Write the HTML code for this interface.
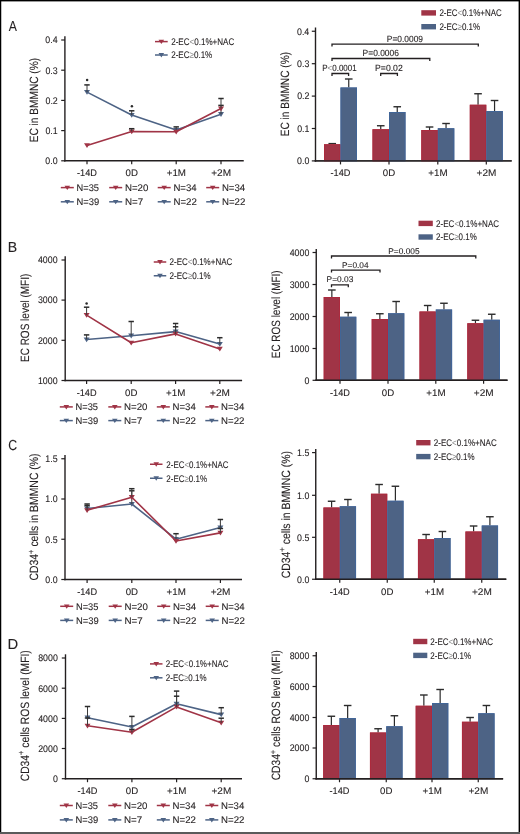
<!DOCTYPE html>
<html><head><meta charset="utf-8"><style>
html,body{margin:0;padding:0;background:#fff;}
body{width:520px;height:834px;overflow:hidden;position:relative;}
svg{position:absolute;left:0;top:0;will-change:transform;}
text{font-family:"Liberation Sans",sans-serif;font-kerning:none;text-rendering:geometricPrecision;stroke:#231f20;stroke-width:0.1px;}
</style></head><body>
<svg width="520" height="834" viewBox="0 0 520 834">
<rect x="0" y="0" width="520" height="834" fill="#fff"/>
<text transform="translate(8.78,31.20) scale(0.8425,1)" font-size="14.5" fill="#231f20">A</text>
<text transform="translate(7.64,251.90) scale(0.9718,1)" font-size="14.5" fill="#231f20">B</text>
<text transform="translate(8.17,450.10) scale(0.8494,1)" font-size="14.5" fill="#231f20">C</text>
<text transform="translate(7.54,649.20) scale(1.0188,1)" font-size="14.5" fill="#231f20">D</text>
<text transform="translate(38.15,142.33) rotate(-90) scale(0.8446,1)" font-size="12.0" fill="#231f20"><tspan font-size="12.0">EC in BMMNC (%)</tspan></text>
<text transform="translate(289.10,136.33) rotate(-90) scale(0.8436,1)" font-size="12.0" fill="#231f20"><tspan font-size="12.0">EC in BMMNC (%)</tspan></text>
<text transform="translate(28.80,362.02) rotate(-90) scale(0.8333,1)" font-size="12.0" fill="#231f20"><tspan font-size="12.0">EC ROS level (MFI)</tspan></text>
<text transform="translate(280.40,358.22) rotate(-90) scale(0.8285,1)" font-size="12.0" fill="#231f20"><tspan font-size="12.0">EC ROS level (MFI)</tspan></text>
<text transform="translate(37.90,580.53) rotate(-90) scale(0.8668,1)" font-size="12.0" fill="#231f20"><tspan font-size="12.0">CD34</tspan><tspan font-size="8.8" dy="-4.1">+</tspan><tspan font-size="12.0" dy="4.1"> cells in BMMNC (%)</tspan></text>
<text transform="translate(289.50,578.33) rotate(-90) scale(0.8688,1)" font-size="12.0" fill="#231f20"><tspan font-size="12.0">CD34</tspan><tspan font-size="8.8" dy="-4.1">+</tspan><tspan font-size="12.0" dy="4.1"> cells in BMMNC (%)</tspan></text>
<text transform="translate(28.50,781.32) rotate(-90) scale(0.8595,1)" font-size="12.0" fill="#231f20"><tspan font-size="12.0">CD34</tspan><tspan font-size="8.8" dy="-4.1">+</tspan><tspan font-size="12.0" dy="4.1"> cells ROS level (MFI)</tspan></text>
<text transform="translate(280.00,780.32) rotate(-90) scale(0.8535,1)" font-size="12.0" fill="#231f20"><tspan font-size="12.0">CD34</tspan><tspan font-size="8.8" dy="-4.1">+</tspan><tspan font-size="12.0" dy="4.1"> cells ROS level (MFI)</tspan></text>
<line x1="64.90" y1="36.30" x2="64.90" y2="161.55" stroke="#231f20" stroke-width="1.4"/>
<line x1="64.15" y1="160.80" x2="243.75" y2="160.80" stroke="#231f20" stroke-width="1.4"/>
<line x1="61.20" y1="40.00" x2="64.90" y2="40.00" stroke="#231f20" stroke-width="1.2"/>
<text transform="translate(45.28,43.30) scale(0.9200,1)" font-size="9.6" fill="#231f20">0.4</text>
<line x1="61.20" y1="70.20" x2="64.90" y2="70.20" stroke="#231f20" stroke-width="1.2"/>
<text transform="translate(45.41,73.50) scale(0.9200,1)" font-size="9.6" fill="#231f20">0.3</text>
<line x1="61.20" y1="100.40" x2="64.90" y2="100.40" stroke="#231f20" stroke-width="1.2"/>
<text transform="translate(45.47,103.70) scale(0.9200,1)" font-size="9.6" fill="#231f20">0.2</text>
<line x1="61.20" y1="130.60" x2="64.90" y2="130.60" stroke="#231f20" stroke-width="1.2"/>
<text transform="translate(45.45,133.90) scale(0.9200,1)" font-size="9.6" fill="#231f20">0.1</text>
<line x1="61.20" y1="160.80" x2="64.90" y2="160.80" stroke="#231f20" stroke-width="1.2"/>
<text transform="translate(45.37,164.10) scale(0.9200,1)" font-size="9.6" fill="#231f20">0.0</text>
<line x1="87.00" y1="160.80" x2="87.00" y2="164.30" stroke="#231f20" stroke-width="1.2"/>
<text transform="translate(77.04,176.30) scale(0.9587,1)" font-size="9.6" fill="#231f20">-14D</text>
<line x1="131.70" y1="160.80" x2="131.70" y2="164.30" stroke="#231f20" stroke-width="1.2"/>
<text transform="translate(125.57,176.30) scale(1.0055,1)" font-size="9.6" fill="#231f20">0D</text>
<line x1="176.20" y1="160.80" x2="176.20" y2="164.30" stroke="#231f20" stroke-width="1.2"/>
<text transform="translate(166.72,176.30) scale(1.0178,1)" font-size="9.6" fill="#231f20">+1M</text>
<line x1="221.00" y1="160.80" x2="221.00" y2="164.30" stroke="#231f20" stroke-width="1.2"/>
<text transform="translate(211.26,176.30) scale(1.0460,1)" font-size="9.6" fill="#231f20">+2M</text>
<polyline points="87.00,92.10 131.70,115.00 176.20,130.00 221.00,114.20" fill="none" stroke="#4d6385" stroke-width="1.6" stroke-linejoin="round"/>
<path d="M84.00,90.00H90.00L87.00,94.80Z" fill="#4d6385"/>
<path d="M128.70,112.90H134.70L131.70,117.70Z" fill="#4d6385"/>
<path d="M173.20,127.90H179.20L176.20,132.70Z" fill="#4d6385"/>
<path d="M218.00,112.10H224.00L221.00,116.90Z" fill="#4d6385"/>
<line x1="87.00" y1="92.10" x2="87.00" y2="84.90" stroke="#3c3c3c" stroke-width="1.0"/>
<line x1="84.30" y1="84.90" x2="89.70" y2="84.90" stroke="#2b2b2b" stroke-width="1.5"/>
<line x1="131.70" y1="115.00" x2="131.70" y2="110.80" stroke="#3c3c3c" stroke-width="1.0"/>
<line x1="129.00" y1="110.80" x2="134.40" y2="110.80" stroke="#2b2b2b" stroke-width="1.5"/>
<line x1="176.20" y1="130.00" x2="176.20" y2="126.90" stroke="#3c3c3c" stroke-width="1.0"/>
<line x1="173.50" y1="126.90" x2="178.90" y2="126.90" stroke="#2b2b2b" stroke-width="1.5"/>
<line x1="221.00" y1="114.20" x2="221.00" y2="105.40" stroke="#3c3c3c" stroke-width="1.0"/>
<line x1="218.30" y1="105.40" x2="223.70" y2="105.40" stroke="#2b2b2b" stroke-width="1.5"/>
<polyline points="87.00,145.40 131.70,131.50 176.20,131.80 221.00,108.50" fill="none" stroke="#a03446" stroke-width="1.6" stroke-linejoin="round"/>
<path d="M84.00,143.30H90.00L87.00,148.10Z" fill="#a03446"/>
<path d="M128.70,129.40H134.70L131.70,134.20Z" fill="#a03446"/>
<path d="M173.20,129.70H179.20L176.20,134.50Z" fill="#a03446"/>
<path d="M218.00,106.40H224.00L221.00,111.20Z" fill="#a03446"/>
<line x1="221.00" y1="108.50" x2="221.00" y2="98.50" stroke="#3c3c3c" stroke-width="1.0"/>
<line x1="218.30" y1="98.50" x2="223.70" y2="98.50" stroke="#2b2b2b" stroke-width="1.5"/>
<line x1="131.70" y1="131.50" x2="131.70" y2="128.70" stroke="#3c3c3c" stroke-width="1.0"/>
<line x1="129.00" y1="128.70" x2="134.40" y2="128.70" stroke="#2b2b2b" stroke-width="1.5"/>
<circle cx="87.10" cy="80.10" r="1.25" fill="#2a2a2a"/>
<circle cx="131.90" cy="106.30" r="1.25" fill="#2a2a2a"/>
<line x1="155.00" y1="41.60" x2="167.70" y2="41.60" stroke="#a03446" stroke-width="1.5"/>
<path d="M158.55,39.70H164.15L161.35,44.10Z" fill="#a03446"/>
<text transform="translate(171.19,44.90) scale(0.8389,1)" font-size="9.6" fill="#231f20">2-EC<tspan fill="#8a8a8a" stroke="none">&lt;</tspan>0.1%+NAC</text>
<line x1="155.00" y1="55.00" x2="167.70" y2="55.00" stroke="#4d6385" stroke-width="1.5"/>
<path d="M158.55,53.10H164.15L161.35,57.50Z" fill="#4d6385"/>
<text transform="translate(171.20,58.30) scale(0.8382,1)" font-size="9.6" fill="#231f20">2-EC<tspan fill="#8a8a8a" stroke="none">≥</tspan>0.1%</text>
<line x1="60.80" y1="187.60" x2="73.80" y2="187.60" stroke="#a03446" stroke-width="1.5"/>
<path d="M64.50,185.70H70.10L67.30,190.10Z" fill="#a03446"/>
<text transform="translate(76.54,190.90) scale(0.9670,1)" font-size="9.6" fill="#231f20">N=35</text>
<line x1="109.20" y1="187.60" x2="122.20" y2="187.60" stroke="#a03446" stroke-width="1.5"/>
<path d="M112.90,185.70H118.50L115.70,190.10Z" fill="#a03446"/>
<text transform="translate(124.90,190.90) scale(1.0111,1)" font-size="9.6" fill="#231f20">N=20</text>
<line x1="157.70" y1="187.60" x2="170.70" y2="187.60" stroke="#a03446" stroke-width="1.5"/>
<path d="M161.40,185.70H167.00L164.20,190.10Z" fill="#a03446"/>
<text transform="translate(173.41,190.90) scale(1.0023,1)" font-size="9.6" fill="#231f20">N=34</text>
<line x1="206.20" y1="187.60" x2="219.20" y2="187.60" stroke="#a03446" stroke-width="1.5"/>
<path d="M209.90,185.70H215.50L212.70,190.10Z" fill="#a03446"/>
<text transform="translate(221.91,190.90) scale(1.0023,1)" font-size="9.6" fill="#231f20">N=34</text>
<line x1="60.80" y1="201.80" x2="73.80" y2="201.80" stroke="#4d6385" stroke-width="1.5"/>
<path d="M64.50,199.90H70.10L67.30,204.30Z" fill="#4d6385"/>
<text transform="translate(76.53,205.10) scale(0.9784,1)" font-size="9.6" fill="#231f20">N=39</text>
<line x1="109.20" y1="201.80" x2="122.20" y2="201.80" stroke="#4d6385" stroke-width="1.5"/>
<path d="M112.90,199.90H118.50L115.70,204.30Z" fill="#4d6385"/>
<text transform="translate(124.89,205.10) scale(1.0236,1)" font-size="9.6" fill="#231f20">N=7</text>
<line x1="157.70" y1="201.80" x2="170.70" y2="201.80" stroke="#4d6385" stroke-width="1.5"/>
<path d="M161.40,199.90H167.00L164.20,204.30Z" fill="#4d6385"/>
<text transform="translate(173.41,205.10) scale(1.0070,1)" font-size="9.6" fill="#231f20">N=22</text>
<line x1="206.20" y1="201.80" x2="219.20" y2="201.80" stroke="#4d6385" stroke-width="1.5"/>
<path d="M209.90,199.90H215.50L212.70,204.30Z" fill="#4d6385"/>
<text transform="translate(221.91,205.10) scale(1.0070,1)" font-size="9.6" fill="#231f20">N=22</text>
<line x1="65.20" y1="256.30" x2="65.20" y2="381.25" stroke="#231f20" stroke-width="1.4"/>
<line x1="64.45" y1="380.50" x2="242.10" y2="380.50" stroke="#231f20" stroke-width="1.4"/>
<line x1="61.50" y1="260.00" x2="65.20" y2="260.00" stroke="#231f20" stroke-width="1.2"/>
<text transform="translate(37.90,263.30) scale(0.9200,1)" font-size="9.6" fill="#231f20">4000</text>
<line x1="61.50" y1="300.10" x2="65.20" y2="300.10" stroke="#231f20" stroke-width="1.2"/>
<text transform="translate(37.90,303.40) scale(0.9200,1)" font-size="9.6" fill="#231f20">3000</text>
<line x1="61.50" y1="340.30" x2="65.20" y2="340.30" stroke="#231f20" stroke-width="1.2"/>
<text transform="translate(37.90,343.60) scale(0.9200,1)" font-size="9.6" fill="#231f20">2000</text>
<line x1="61.50" y1="380.50" x2="65.20" y2="380.50" stroke="#231f20" stroke-width="1.2"/>
<text transform="translate(37.90,383.80) scale(0.9200,1)" font-size="9.6" fill="#231f20">1000</text>
<line x1="86.60" y1="380.50" x2="86.60" y2="384.00" stroke="#231f20" stroke-width="1.2"/>
<text transform="translate(76.64,396.00) scale(0.9587,1)" font-size="9.6" fill="#231f20">-14D</text>
<line x1="131.20" y1="380.50" x2="131.20" y2="384.00" stroke="#231f20" stroke-width="1.2"/>
<text transform="translate(125.07,396.00) scale(1.0055,1)" font-size="9.6" fill="#231f20">0D</text>
<line x1="175.60" y1="380.50" x2="175.60" y2="384.00" stroke="#231f20" stroke-width="1.2"/>
<text transform="translate(166.12,396.00) scale(1.0178,1)" font-size="9.6" fill="#231f20">+1M</text>
<line x1="219.80" y1="380.50" x2="219.80" y2="384.00" stroke="#231f20" stroke-width="1.2"/>
<text transform="translate(210.06,396.00) scale(1.0460,1)" font-size="9.6" fill="#231f20">+2M</text>
<polyline points="86.60,339.50 131.20,335.70 175.60,331.60 219.80,344.10" fill="none" stroke="#4d6385" stroke-width="1.6" stroke-linejoin="round"/>
<path d="M83.60,337.40H89.60L86.60,342.20Z" fill="#4d6385"/>
<path d="M128.20,333.60H134.20L131.20,338.40Z" fill="#4d6385"/>
<path d="M172.60,329.50H178.60L175.60,334.30Z" fill="#4d6385"/>
<path d="M216.80,342.00H222.80L219.80,346.80Z" fill="#4d6385"/>
<line x1="86.60" y1="339.50" x2="86.60" y2="334.90" stroke="#3c3c3c" stroke-width="1.0"/>
<line x1="83.90" y1="334.90" x2="89.30" y2="334.90" stroke="#2b2b2b" stroke-width="1.5"/>
<line x1="131.20" y1="335.70" x2="131.20" y2="321.50" stroke="#3c3c3c" stroke-width="1.0"/>
<line x1="128.50" y1="321.50" x2="133.90" y2="321.50" stroke="#2b2b2b" stroke-width="1.5"/>
<line x1="175.60" y1="331.60" x2="175.60" y2="323.50" stroke="#3c3c3c" stroke-width="1.0"/>
<line x1="172.90" y1="323.50" x2="178.30" y2="323.50" stroke="#2b2b2b" stroke-width="1.5"/>
<line x1="219.80" y1="344.10" x2="219.80" y2="337.70" stroke="#3c3c3c" stroke-width="1.0"/>
<line x1="217.10" y1="337.70" x2="222.50" y2="337.70" stroke="#2b2b2b" stroke-width="1.5"/>
<polyline points="86.60,315.10 131.20,342.80 175.60,333.90 219.80,348.90" fill="none" stroke="#a03446" stroke-width="1.6" stroke-linejoin="round"/>
<path d="M83.60,313.00H89.60L86.60,317.80Z" fill="#a03446"/>
<path d="M128.20,340.70H134.20L131.20,345.50Z" fill="#a03446"/>
<path d="M172.60,331.80H178.60L175.60,336.60Z" fill="#a03446"/>
<path d="M216.80,346.80H222.80L219.80,351.60Z" fill="#a03446"/>
<line x1="86.60" y1="315.10" x2="86.60" y2="307.20" stroke="#3c3c3c" stroke-width="1.0"/>
<line x1="83.90" y1="307.20" x2="89.30" y2="307.20" stroke="#2b2b2b" stroke-width="1.5"/>
<line x1="175.60" y1="333.90" x2="175.60" y2="326.80" stroke="#3c3c3c" stroke-width="1.0"/>
<line x1="172.90" y1="326.80" x2="178.30" y2="326.80" stroke="#2b2b2b" stroke-width="1.5"/>
<circle cx="86.60" cy="303.50" r="1.25" fill="#2a2a2a"/>
<line x1="153.75" y1="262.00" x2="166.25" y2="262.00" stroke="#a03446" stroke-width="1.5"/>
<path d="M157.20,260.10H162.80L160.00,264.50Z" fill="#a03446"/>
<text transform="translate(169.60,265.30) scale(0.8335,1)" font-size="9.6" fill="#231f20">2-EC<tspan fill="#8a8a8a" stroke="none">&lt;</tspan>0.1%+NAC</text>
<line x1="153.75" y1="275.75" x2="166.25" y2="275.75" stroke="#4d6385" stroke-width="1.5"/>
<path d="M157.20,273.85H162.80L160.00,278.25Z" fill="#4d6385"/>
<text transform="translate(169.60,279.05) scale(0.8382,1)" font-size="9.6" fill="#231f20">2-EC<tspan fill="#8a8a8a" stroke="none">≥</tspan>0.1%</text>
<line x1="59.80" y1="406.90" x2="72.80" y2="406.90" stroke="#a03446" stroke-width="1.5"/>
<path d="M63.50,405.00H69.10L66.30,409.40Z" fill="#a03446"/>
<text transform="translate(75.54,410.20) scale(0.9670,1)" font-size="9.6" fill="#231f20">N=35</text>
<line x1="108.30" y1="406.90" x2="121.30" y2="406.90" stroke="#a03446" stroke-width="1.5"/>
<path d="M112.00,405.00H117.60L114.80,409.40Z" fill="#a03446"/>
<text transform="translate(124.00,410.20) scale(1.0111,1)" font-size="9.6" fill="#231f20">N=20</text>
<line x1="156.80" y1="406.90" x2="169.80" y2="406.90" stroke="#a03446" stroke-width="1.5"/>
<path d="M160.50,405.00H166.10L163.30,409.40Z" fill="#a03446"/>
<text transform="translate(172.51,410.20) scale(1.0023,1)" font-size="9.6" fill="#231f20">N=34</text>
<line x1="205.30" y1="406.90" x2="218.30" y2="406.90" stroke="#a03446" stroke-width="1.5"/>
<path d="M209.00,405.00H214.60L211.80,409.40Z" fill="#a03446"/>
<text transform="translate(221.01,410.20) scale(1.0023,1)" font-size="9.6" fill="#231f20">N=34</text>
<line x1="59.80" y1="420.60" x2="72.80" y2="420.60" stroke="#4d6385" stroke-width="1.5"/>
<path d="M63.50,418.70H69.10L66.30,423.10Z" fill="#4d6385"/>
<text transform="translate(75.53,423.90) scale(0.9784,1)" font-size="9.6" fill="#231f20">N=39</text>
<line x1="108.30" y1="420.60" x2="121.30" y2="420.60" stroke="#4d6385" stroke-width="1.5"/>
<path d="M112.00,418.70H117.60L114.80,423.10Z" fill="#4d6385"/>
<text transform="translate(123.99,423.90) scale(1.0236,1)" font-size="9.6" fill="#231f20">N=7</text>
<line x1="156.80" y1="420.60" x2="169.80" y2="420.60" stroke="#4d6385" stroke-width="1.5"/>
<path d="M160.50,418.70H166.10L163.30,423.10Z" fill="#4d6385"/>
<text transform="translate(172.51,423.90) scale(1.0070,1)" font-size="9.6" fill="#231f20">N=22</text>
<line x1="205.30" y1="420.60" x2="218.30" y2="420.60" stroke="#4d6385" stroke-width="1.5"/>
<path d="M209.00,418.70H214.60L211.80,423.10Z" fill="#4d6385"/>
<text transform="translate(221.01,423.90) scale(1.0070,1)" font-size="9.6" fill="#231f20">N=22</text>
<line x1="65.00" y1="455.00" x2="65.00" y2="580.25" stroke="#231f20" stroke-width="1.4"/>
<line x1="64.25" y1="579.50" x2="242.00" y2="579.50" stroke="#231f20" stroke-width="1.4"/>
<line x1="61.30" y1="458.75" x2="65.00" y2="458.75" stroke="#231f20" stroke-width="1.2"/>
<text transform="translate(45.29,462.05) scale(0.9200,1)" font-size="9.6" fill="#231f20">1.5</text>
<line x1="61.30" y1="499.00" x2="65.00" y2="499.00" stroke="#231f20" stroke-width="1.2"/>
<text transform="translate(45.27,502.30) scale(0.9200,1)" font-size="9.6" fill="#231f20">1.0</text>
<line x1="61.30" y1="539.25" x2="65.00" y2="539.25" stroke="#231f20" stroke-width="1.2"/>
<text transform="translate(45.29,542.55) scale(0.9200,1)" font-size="9.6" fill="#231f20">0.5</text>
<line x1="61.30" y1="579.50" x2="65.00" y2="579.50" stroke="#231f20" stroke-width="1.2"/>
<text transform="translate(45.27,582.80) scale(0.9200,1)" font-size="9.6" fill="#231f20">0.0</text>
<line x1="87.10" y1="579.50" x2="87.10" y2="583.00" stroke="#231f20" stroke-width="1.2"/>
<text transform="translate(77.14,595.00) scale(0.9587,1)" font-size="9.6" fill="#231f20">-14D</text>
<line x1="131.80" y1="579.50" x2="131.80" y2="583.00" stroke="#231f20" stroke-width="1.2"/>
<text transform="translate(125.67,595.00) scale(1.0055,1)" font-size="9.6" fill="#231f20">0D</text>
<line x1="176.00" y1="579.50" x2="176.00" y2="583.00" stroke="#231f20" stroke-width="1.2"/>
<text transform="translate(166.52,595.00) scale(1.0178,1)" font-size="9.6" fill="#231f20">+1M</text>
<line x1="220.40" y1="579.50" x2="220.40" y2="583.00" stroke="#231f20" stroke-width="1.2"/>
<text transform="translate(210.66,595.00) scale(1.0460,1)" font-size="9.6" fill="#231f20">+2M</text>
<polyline points="87.10,508.50 131.80,504.00 176.00,539.20 220.40,527.50" fill="none" stroke="#4d6385" stroke-width="1.6" stroke-linejoin="round"/>
<path d="M84.10,506.40H90.10L87.10,511.20Z" fill="#4d6385"/>
<path d="M128.80,501.90H134.80L131.80,506.70Z" fill="#4d6385"/>
<path d="M173.00,537.10H179.00L176.00,541.90Z" fill="#4d6385"/>
<path d="M217.40,525.40H223.40L220.40,530.20Z" fill="#4d6385"/>
<line x1="87.10" y1="508.50" x2="87.10" y2="504.00" stroke="#3c3c3c" stroke-width="1.0"/>
<line x1="84.40" y1="504.00" x2="89.80" y2="504.00" stroke="#2b2b2b" stroke-width="1.5"/>
<line x1="131.80" y1="504.00" x2="131.80" y2="490.80" stroke="#3c3c3c" stroke-width="1.0"/>
<line x1="129.10" y1="490.80" x2="134.50" y2="490.80" stroke="#2b2b2b" stroke-width="1.5"/>
<line x1="176.00" y1="539.20" x2="176.00" y2="533.70" stroke="#3c3c3c" stroke-width="1.0"/>
<line x1="173.30" y1="533.70" x2="178.70" y2="533.70" stroke="#2b2b2b" stroke-width="1.5"/>
<line x1="220.40" y1="527.50" x2="220.40" y2="519.50" stroke="#3c3c3c" stroke-width="1.0"/>
<line x1="217.70" y1="519.50" x2="223.10" y2="519.50" stroke="#2b2b2b" stroke-width="1.5"/>
<polyline points="87.10,510.30 131.80,497.20 176.00,541.00 220.40,532.90" fill="none" stroke="#a03446" stroke-width="1.6" stroke-linejoin="round"/>
<path d="M84.10,508.20H90.10L87.10,513.00Z" fill="#a03446"/>
<path d="M128.80,495.10H134.80L131.80,499.90Z" fill="#a03446"/>
<path d="M173.00,538.90H179.00L176.00,543.70Z" fill="#a03446"/>
<path d="M217.40,530.80H223.40L220.40,535.60Z" fill="#a03446"/>
<line x1="87.10" y1="510.30" x2="87.10" y2="505.60" stroke="#3c3c3c" stroke-width="1.0"/>
<line x1="84.40" y1="505.60" x2="89.80" y2="505.60" stroke="#2b2b2b" stroke-width="1.5"/>
<line x1="131.80" y1="497.20" x2="131.80" y2="488.70" stroke="#3c3c3c" stroke-width="1.0"/>
<line x1="129.10" y1="488.70" x2="134.50" y2="488.70" stroke="#2b2b2b" stroke-width="1.5"/>
<line x1="220.40" y1="532.90" x2="220.40" y2="528.50" stroke="#3c3c3c" stroke-width="1.0"/>
<line x1="217.70" y1="528.50" x2="223.10" y2="528.50" stroke="#2b2b2b" stroke-width="1.5"/>
<line x1="150.00" y1="464.25" x2="162.50" y2="464.25" stroke="#a03446" stroke-width="1.5"/>
<path d="M153.45,462.35H159.05L156.25,466.75Z" fill="#a03446"/>
<text transform="translate(166.35,467.55) scale(0.8268,1)" font-size="9.6" fill="#231f20">2-EC<tspan fill="#8a8a8a" stroke="none">&lt;</tspan>0.1%+NAC</text>
<line x1="150.00" y1="478.25" x2="162.50" y2="478.25" stroke="#4d6385" stroke-width="1.5"/>
<path d="M153.45,476.35H159.05L156.25,480.75Z" fill="#4d6385"/>
<text transform="translate(166.35,481.55) scale(0.8299,1)" font-size="9.6" fill="#231f20">2-EC<tspan fill="#8a8a8a" stroke="none">≥</tspan>0.1%</text>
<line x1="60.20" y1="606.30" x2="73.20" y2="606.30" stroke="#a03446" stroke-width="1.5"/>
<path d="M63.90,604.40H69.50L66.70,608.80Z" fill="#a03446"/>
<text transform="translate(75.94,609.60) scale(0.9670,1)" font-size="9.6" fill="#231f20">N=35</text>
<line x1="108.70" y1="606.30" x2="121.70" y2="606.30" stroke="#a03446" stroke-width="1.5"/>
<path d="M112.40,604.40H118.00L115.20,608.80Z" fill="#a03446"/>
<text transform="translate(124.40,609.60) scale(1.0111,1)" font-size="9.6" fill="#231f20">N=20</text>
<line x1="157.20" y1="606.30" x2="170.20" y2="606.30" stroke="#a03446" stroke-width="1.5"/>
<path d="M160.90,604.40H166.50L163.70,608.80Z" fill="#a03446"/>
<text transform="translate(172.91,609.60) scale(1.0023,1)" font-size="9.6" fill="#231f20">N=34</text>
<line x1="205.70" y1="606.30" x2="218.70" y2="606.30" stroke="#a03446" stroke-width="1.5"/>
<path d="M209.40,604.40H215.00L212.20,608.80Z" fill="#a03446"/>
<text transform="translate(221.41,609.60) scale(1.0023,1)" font-size="9.6" fill="#231f20">N=34</text>
<line x1="60.20" y1="620.40" x2="73.20" y2="620.40" stroke="#4d6385" stroke-width="1.5"/>
<path d="M63.90,618.50H69.50L66.70,622.90Z" fill="#4d6385"/>
<text transform="translate(75.93,623.70) scale(0.9784,1)" font-size="9.6" fill="#231f20">N=39</text>
<line x1="108.70" y1="620.40" x2="121.70" y2="620.40" stroke="#4d6385" stroke-width="1.5"/>
<path d="M112.40,618.50H118.00L115.20,622.90Z" fill="#4d6385"/>
<text transform="translate(124.39,623.70) scale(1.0236,1)" font-size="9.6" fill="#231f20">N=7</text>
<line x1="157.20" y1="620.40" x2="170.20" y2="620.40" stroke="#4d6385" stroke-width="1.5"/>
<path d="M160.90,618.50H166.50L163.70,622.90Z" fill="#4d6385"/>
<text transform="translate(172.91,623.70) scale(1.0070,1)" font-size="9.6" fill="#231f20">N=22</text>
<line x1="205.70" y1="620.40" x2="218.70" y2="620.40" stroke="#4d6385" stroke-width="1.5"/>
<path d="M209.40,618.50H215.00L212.20,622.90Z" fill="#4d6385"/>
<text transform="translate(221.41,623.70) scale(1.0070,1)" font-size="9.6" fill="#231f20">N=22</text>
<line x1="65.50" y1="654.30" x2="65.50" y2="779.45" stroke="#231f20" stroke-width="1.4"/>
<line x1="64.75" y1="778.70" x2="242.00" y2="778.70" stroke="#231f20" stroke-width="1.4"/>
<line x1="61.80" y1="658.00" x2="65.50" y2="658.00" stroke="#231f20" stroke-width="1.2"/>
<text transform="translate(38.20,661.30) scale(0.9200,1)" font-size="9.6" fill="#231f20">8000</text>
<line x1="61.80" y1="688.20" x2="65.50" y2="688.20" stroke="#231f20" stroke-width="1.2"/>
<text transform="translate(38.20,691.50) scale(0.9200,1)" font-size="9.6" fill="#231f20">6000</text>
<line x1="61.80" y1="718.40" x2="65.50" y2="718.40" stroke="#231f20" stroke-width="1.2"/>
<text transform="translate(38.20,721.70) scale(0.9200,1)" font-size="9.6" fill="#231f20">4000</text>
<line x1="61.80" y1="748.50" x2="65.50" y2="748.50" stroke="#231f20" stroke-width="1.2"/>
<text transform="translate(38.20,751.80) scale(0.9200,1)" font-size="9.6" fill="#231f20">2000</text>
<line x1="61.80" y1="778.70" x2="65.50" y2="778.70" stroke="#231f20" stroke-width="1.2"/>
<text transform="translate(52.93,782.00) scale(0.9200,1)" font-size="9.6" fill="#231f20">0</text>
<line x1="87.50" y1="778.70" x2="87.50" y2="782.20" stroke="#231f20" stroke-width="1.2"/>
<text transform="translate(77.54,794.20) scale(0.9587,1)" font-size="9.6" fill="#231f20">-14D</text>
<line x1="131.90" y1="778.70" x2="131.90" y2="782.20" stroke="#231f20" stroke-width="1.2"/>
<text transform="translate(125.77,794.20) scale(1.0055,1)" font-size="9.6" fill="#231f20">0D</text>
<line x1="176.60" y1="778.70" x2="176.60" y2="782.20" stroke="#231f20" stroke-width="1.2"/>
<text transform="translate(167.12,794.20) scale(1.0178,1)" font-size="9.6" fill="#231f20">+1M</text>
<line x1="221.20" y1="778.70" x2="221.20" y2="782.20" stroke="#231f20" stroke-width="1.2"/>
<text transform="translate(211.46,794.20) scale(1.0460,1)" font-size="9.6" fill="#231f20">+2M</text>
<polyline points="87.50,717.70 131.90,727.00 176.60,703.80 221.20,714.60" fill="none" stroke="#4d6385" stroke-width="1.6" stroke-linejoin="round"/>
<path d="M84.50,715.60H90.50L87.50,720.40Z" fill="#4d6385"/>
<path d="M128.90,724.90H134.90L131.90,729.70Z" fill="#4d6385"/>
<path d="M173.60,701.70H179.60L176.60,706.50Z" fill="#4d6385"/>
<path d="M218.20,712.50H224.20L221.20,717.30Z" fill="#4d6385"/>
<line x1="87.50" y1="717.70" x2="87.50" y2="706.50" stroke="#3c3c3c" stroke-width="1.0"/>
<line x1="84.80" y1="706.50" x2="90.20" y2="706.50" stroke="#2b2b2b" stroke-width="1.5"/>
<line x1="131.90" y1="727.00" x2="131.90" y2="716.40" stroke="#3c3c3c" stroke-width="1.0"/>
<line x1="129.20" y1="716.40" x2="134.60" y2="716.40" stroke="#2b2b2b" stroke-width="1.5"/>
<line x1="176.60" y1="703.80" x2="176.60" y2="691.10" stroke="#3c3c3c" stroke-width="1.0"/>
<line x1="173.90" y1="691.10" x2="179.30" y2="691.10" stroke="#2b2b2b" stroke-width="1.5"/>
<line x1="221.20" y1="714.60" x2="221.20" y2="707.70" stroke="#3c3c3c" stroke-width="1.0"/>
<line x1="218.50" y1="707.70" x2="223.90" y2="707.70" stroke="#2b2b2b" stroke-width="1.5"/>
<polyline points="87.50,725.80 131.90,732.30 176.60,706.90 221.20,722.80" fill="none" stroke="#a03446" stroke-width="1.6" stroke-linejoin="round"/>
<path d="M84.50,723.70H90.50L87.50,728.50Z" fill="#a03446"/>
<path d="M128.90,730.20H134.90L131.90,735.00Z" fill="#a03446"/>
<path d="M173.60,704.80H179.60L176.60,709.60Z" fill="#a03446"/>
<path d="M218.20,720.70H224.20L221.20,725.50Z" fill="#a03446"/>
<line x1="87.50" y1="725.80" x2="87.50" y2="718.00" stroke="#3c3c3c" stroke-width="1.0"/>
<line x1="84.80" y1="718.00" x2="90.20" y2="718.00" stroke="#2b2b2b" stroke-width="1.5"/>
<line x1="131.90" y1="732.30" x2="131.90" y2="729.40" stroke="#3c3c3c" stroke-width="1.0"/>
<line x1="129.20" y1="729.40" x2="134.60" y2="729.40" stroke="#2b2b2b" stroke-width="1.5"/>
<line x1="176.60" y1="706.90" x2="176.60" y2="696.20" stroke="#3c3c3c" stroke-width="1.0"/>
<line x1="173.90" y1="696.20" x2="179.30" y2="696.20" stroke="#2b2b2b" stroke-width="1.5"/>
<line x1="221.20" y1="722.80" x2="221.20" y2="718.20" stroke="#3c3c3c" stroke-width="1.0"/>
<line x1="218.50" y1="718.20" x2="223.90" y2="718.20" stroke="#2b2b2b" stroke-width="1.5"/>
<line x1="150.00" y1="663.90" x2="162.50" y2="663.90" stroke="#a03446" stroke-width="1.5"/>
<path d="M153.45,662.00H159.05L156.25,666.40Z" fill="#a03446"/>
<text transform="translate(165.85,667.20) scale(0.8335,1)" font-size="9.6" fill="#231f20">2-EC<tspan fill="#8a8a8a" stroke="none">&lt;</tspan>0.1%+NAC</text>
<line x1="150.00" y1="677.80" x2="162.50" y2="677.80" stroke="#4d6385" stroke-width="1.5"/>
<path d="M153.45,675.90H159.05L156.25,680.30Z" fill="#4d6385"/>
<text transform="translate(165.85,681.10) scale(0.8299,1)" font-size="9.6" fill="#231f20">2-EC<tspan fill="#8a8a8a" stroke="none">≥</tspan>0.1%</text>
<line x1="59.80" y1="805.50" x2="72.80" y2="805.50" stroke="#a03446" stroke-width="1.5"/>
<path d="M63.50,803.60H69.10L66.30,808.00Z" fill="#a03446"/>
<text transform="translate(75.54,808.80) scale(0.9670,1)" font-size="9.6" fill="#231f20">N=35</text>
<line x1="108.30" y1="805.50" x2="121.30" y2="805.50" stroke="#a03446" stroke-width="1.5"/>
<path d="M112.00,803.60H117.60L114.80,808.00Z" fill="#a03446"/>
<text transform="translate(124.00,808.80) scale(1.0111,1)" font-size="9.6" fill="#231f20">N=20</text>
<line x1="156.80" y1="805.50" x2="169.80" y2="805.50" stroke="#a03446" stroke-width="1.5"/>
<path d="M160.50,803.60H166.10L163.30,808.00Z" fill="#a03446"/>
<text transform="translate(172.51,808.80) scale(1.0023,1)" font-size="9.6" fill="#231f20">N=34</text>
<line x1="205.30" y1="805.50" x2="218.30" y2="805.50" stroke="#a03446" stroke-width="1.5"/>
<path d="M209.00,803.60H214.60L211.80,808.00Z" fill="#a03446"/>
<text transform="translate(221.01,808.80) scale(1.0023,1)" font-size="9.6" fill="#231f20">N=34</text>
<line x1="59.80" y1="819.90" x2="72.80" y2="819.90" stroke="#4d6385" stroke-width="1.5"/>
<path d="M63.50,818.00H69.10L66.30,822.40Z" fill="#4d6385"/>
<text transform="translate(75.53,823.20) scale(0.9784,1)" font-size="9.6" fill="#231f20">N=39</text>
<line x1="108.30" y1="819.90" x2="121.30" y2="819.90" stroke="#4d6385" stroke-width="1.5"/>
<path d="M112.00,818.00H117.60L114.80,822.40Z" fill="#4d6385"/>
<text transform="translate(123.99,823.20) scale(1.0236,1)" font-size="9.6" fill="#231f20">N=7</text>
<line x1="156.80" y1="819.90" x2="169.80" y2="819.90" stroke="#4d6385" stroke-width="1.5"/>
<path d="M160.50,818.00H166.10L163.30,822.40Z" fill="#4d6385"/>
<text transform="translate(172.51,823.20) scale(1.0070,1)" font-size="9.6" fill="#231f20">N=22</text>
<line x1="205.30" y1="819.90" x2="218.30" y2="819.90" stroke="#4d6385" stroke-width="1.5"/>
<path d="M209.00,818.00H214.60L211.80,822.40Z" fill="#4d6385"/>
<text transform="translate(221.01,823.20) scale(1.0070,1)" font-size="9.6" fill="#231f20">N=22</text>
<line x1="315.50" y1="27.50" x2="315.50" y2="161.65" stroke="#231f20" stroke-width="1.4"/>
<line x1="314.75" y1="160.90" x2="511.70" y2="160.90" stroke="#231f20" stroke-width="1.4"/>
<line x1="311.80" y1="31.25" x2="315.50" y2="31.25" stroke="#231f20" stroke-width="1.2"/>
<text transform="translate(296.98,34.55) scale(0.9200,1)" font-size="9.6" fill="#231f20">0.4</text>
<line x1="311.80" y1="63.70" x2="315.50" y2="63.70" stroke="#231f20" stroke-width="1.2"/>
<text transform="translate(297.11,67.00) scale(0.9200,1)" font-size="9.6" fill="#231f20">0.3</text>
<line x1="311.80" y1="96.10" x2="315.50" y2="96.10" stroke="#231f20" stroke-width="1.2"/>
<text transform="translate(297.17,99.40) scale(0.9200,1)" font-size="9.6" fill="#231f20">0.2</text>
<line x1="311.80" y1="128.50" x2="315.50" y2="128.50" stroke="#231f20" stroke-width="1.2"/>
<text transform="translate(297.15,131.80) scale(0.9200,1)" font-size="9.6" fill="#231f20">0.1</text>
<line x1="311.80" y1="160.90" x2="315.50" y2="160.90" stroke="#231f20" stroke-width="1.2"/>
<text transform="translate(297.07,164.20) scale(0.9200,1)" font-size="9.6" fill="#231f20">0.0</text>
<line x1="340.50" y1="160.90" x2="340.50" y2="164.40" stroke="#231f20" stroke-width="1.2"/>
<text transform="translate(330.54,176.40) scale(0.9587,1)" font-size="9.6" fill="#231f20">-14D</text>
<line x1="389.00" y1="160.90" x2="389.00" y2="164.40" stroke="#231f20" stroke-width="1.2"/>
<text transform="translate(382.87,176.40) scale(1.0055,1)" font-size="9.6" fill="#231f20">0D</text>
<line x1="437.80" y1="160.90" x2="437.80" y2="164.40" stroke="#231f20" stroke-width="1.2"/>
<text transform="translate(428.32,176.40) scale(1.0178,1)" font-size="9.6" fill="#231f20">+1M</text>
<line x1="486.30" y1="160.90" x2="486.30" y2="164.40" stroke="#231f20" stroke-width="1.2"/>
<text transform="translate(476.56,176.40) scale(1.0460,1)" font-size="9.6" fill="#231f20">+2M</text>
<line x1="332.25" y1="144.25" x2="332.25" y2="143.60" stroke="#2b2b2b" stroke-width="1.2"/>
<line x1="328.45" y1="143.60" x2="336.05" y2="143.60" stroke="#2b2b2b" stroke-width="1.4"/>
<line x1="348.75" y1="87.50" x2="348.75" y2="79.00" stroke="#2b2b2b" stroke-width="1.2"/>
<line x1="344.95" y1="79.00" x2="352.55" y2="79.00" stroke="#2b2b2b" stroke-width="1.4"/>
<rect x="324.00" y="144.25" width="16.50" height="16.65" fill="#a03446"/>
<rect x="340.50" y="87.50" width="16.50" height="73.40" fill="#4d6385"/>
<rect x="324.45" y="144.70" width="15.60" height="16.20" fill="none" stroke="#ad2a3d" stroke-width="0.9"/>
<rect x="340.95" y="87.95" width="15.60" height="72.95" fill="none" stroke="#41659a" stroke-width="0.9"/>
<line x1="380.75" y1="129.25" x2="380.75" y2="125.75" stroke="#2b2b2b" stroke-width="1.2"/>
<line x1="376.95" y1="125.75" x2="384.55" y2="125.75" stroke="#2b2b2b" stroke-width="1.4"/>
<line x1="397.25" y1="112.00" x2="397.25" y2="106.75" stroke="#2b2b2b" stroke-width="1.2"/>
<line x1="393.45" y1="106.75" x2="401.05" y2="106.75" stroke="#2b2b2b" stroke-width="1.4"/>
<rect x="372.50" y="129.25" width="16.50" height="31.65" fill="#a03446"/>
<rect x="389.00" y="112.00" width="16.50" height="48.90" fill="#4d6385"/>
<rect x="372.95" y="129.70" width="15.60" height="31.20" fill="none" stroke="#ad2a3d" stroke-width="0.9"/>
<rect x="389.45" y="112.45" width="15.60" height="48.45" fill="none" stroke="#41659a" stroke-width="0.9"/>
<line x1="429.55" y1="130.00" x2="429.55" y2="127.00" stroke="#2b2b2b" stroke-width="1.2"/>
<line x1="425.75" y1="127.00" x2="433.35" y2="127.00" stroke="#2b2b2b" stroke-width="1.4"/>
<line x1="446.05" y1="128.25" x2="446.05" y2="123.50" stroke="#2b2b2b" stroke-width="1.2"/>
<line x1="442.25" y1="123.50" x2="449.85" y2="123.50" stroke="#2b2b2b" stroke-width="1.4"/>
<rect x="421.30" y="130.00" width="16.50" height="30.90" fill="#a03446"/>
<rect x="437.80" y="128.25" width="16.50" height="32.65" fill="#4d6385"/>
<rect x="421.75" y="130.45" width="15.60" height="30.45" fill="none" stroke="#ad2a3d" stroke-width="0.9"/>
<rect x="438.25" y="128.70" width="15.60" height="32.20" fill="none" stroke="#41659a" stroke-width="0.9"/>
<line x1="478.05" y1="104.75" x2="478.05" y2="93.75" stroke="#2b2b2b" stroke-width="1.2"/>
<line x1="474.25" y1="93.75" x2="481.85" y2="93.75" stroke="#2b2b2b" stroke-width="1.4"/>
<line x1="494.55" y1="111.00" x2="494.55" y2="100.50" stroke="#2b2b2b" stroke-width="1.2"/>
<line x1="490.75" y1="100.50" x2="498.35" y2="100.50" stroke="#2b2b2b" stroke-width="1.4"/>
<rect x="469.80" y="104.75" width="16.50" height="56.15" fill="#a03446"/>
<rect x="486.30" y="111.00" width="16.50" height="49.90" fill="#4d6385"/>
<rect x="470.25" y="105.20" width="15.60" height="55.70" fill="none" stroke="#ad2a3d" stroke-width="0.9"/>
<rect x="486.75" y="111.45" width="15.60" height="49.45" fill="none" stroke="#41659a" stroke-width="0.9"/>
<line x1="314.75" y1="160.90" x2="511.70" y2="160.90" stroke="#231f20" stroke-width="1.4"/>
<path d="M332.00,46.60V44.20H478.30V46.60" fill="none" stroke="#231f20" stroke-width="1.3"/>
<path d="M332.00,60.90V58.50H429.80V60.90" fill="none" stroke="#231f20" stroke-width="1.3"/>
<path d="M332.00,75.90V73.50H348.60V75.90" fill="none" stroke="#231f20" stroke-width="1.3"/>
<path d="M380.70,75.90V73.50H397.40V75.90" fill="none" stroke="#231f20" stroke-width="1.3"/>
<text transform="translate(386.81,41.60) scale(0.9330,1)" font-size="9.0" fill="#231f20">P=0.0009</text>
<text transform="translate(362.61,56.00) scale(0.9349,1)" font-size="9.0" fill="#231f20">P=0.0006</text>
<text transform="translate(322.25,70.90) scale(0.8854,1)" font-size="9.0" fill="#231f20">P<tspan fill="#8a8a8a" stroke="none">&lt;</tspan>0.0001</text>
<text transform="translate(375.09,71.00) scale(0.9607,1)" font-size="9.0" fill="#231f20">P=0.02</text>
<rect x="421.30" y="10.20" width="14.70" height="5.40" fill="#a03446"/>
<text transform="translate(439.40,16.20) scale(0.8295,1)" font-size="9.6" fill="#231f20">2-EC<tspan fill="#8a8a8a" stroke="none">&lt;</tspan>0.1%+NAC</text>
<rect x="421.30" y="24.00" width="14.70" height="5.40" fill="#4d6385"/>
<text transform="translate(439.40,30.00) scale(0.8299,1)" font-size="9.6" fill="#231f20">2-EC<tspan fill="#8a8a8a" stroke="none">≥</tspan>0.1%</text>
<line x1="316.25" y1="249.00" x2="316.25" y2="381.05" stroke="#231f20" stroke-width="1.4"/>
<line x1="315.50" y1="380.30" x2="507.50" y2="380.30" stroke="#231f20" stroke-width="1.4"/>
<line x1="312.55" y1="252.50" x2="316.25" y2="252.50" stroke="#231f20" stroke-width="1.2"/>
<text transform="translate(289.70,255.80) scale(0.9200,1)" font-size="9.6" fill="#231f20">4000</text>
<line x1="312.55" y1="284.50" x2="316.25" y2="284.50" stroke="#231f20" stroke-width="1.2"/>
<text transform="translate(289.70,287.80) scale(0.9200,1)" font-size="9.6" fill="#231f20">3000</text>
<line x1="312.55" y1="316.50" x2="316.25" y2="316.50" stroke="#231f20" stroke-width="1.2"/>
<text transform="translate(289.70,319.80) scale(0.9200,1)" font-size="9.6" fill="#231f20">2000</text>
<line x1="312.55" y1="348.50" x2="316.25" y2="348.50" stroke="#231f20" stroke-width="1.2"/>
<text transform="translate(289.70,351.80) scale(0.9200,1)" font-size="9.6" fill="#231f20">1000</text>
<line x1="312.55" y1="380.30" x2="316.25" y2="380.30" stroke="#231f20" stroke-width="1.2"/>
<text transform="translate(304.43,383.60) scale(0.9200,1)" font-size="9.6" fill="#231f20">0</text>
<line x1="340.00" y1="380.30" x2="340.00" y2="383.80" stroke="#231f20" stroke-width="1.2"/>
<text transform="translate(330.04,395.80) scale(0.9587,1)" font-size="9.6" fill="#231f20">-14D</text>
<line x1="388.00" y1="380.30" x2="388.00" y2="383.80" stroke="#231f20" stroke-width="1.2"/>
<text transform="translate(381.87,395.80) scale(1.0055,1)" font-size="9.6" fill="#231f20">0D</text>
<line x1="435.80" y1="380.30" x2="435.80" y2="383.80" stroke="#231f20" stroke-width="1.2"/>
<text transform="translate(426.32,395.80) scale(1.0178,1)" font-size="9.6" fill="#231f20">+1M</text>
<line x1="483.60" y1="380.30" x2="483.60" y2="383.80" stroke="#231f20" stroke-width="1.2"/>
<text transform="translate(473.86,395.80) scale(1.0460,1)" font-size="9.6" fill="#231f20">+2M</text>
<line x1="331.85" y1="297.00" x2="331.85" y2="290.00" stroke="#2b2b2b" stroke-width="1.2"/>
<line x1="328.05" y1="290.00" x2="335.65" y2="290.00" stroke="#2b2b2b" stroke-width="1.4"/>
<line x1="348.15" y1="316.75" x2="348.15" y2="312.50" stroke="#2b2b2b" stroke-width="1.2"/>
<line x1="344.35" y1="312.50" x2="351.95" y2="312.50" stroke="#2b2b2b" stroke-width="1.4"/>
<rect x="323.70" y="297.00" width="16.30" height="83.30" fill="#a03446"/>
<rect x="340.00" y="316.75" width="16.30" height="63.55" fill="#4d6385"/>
<rect x="324.15" y="297.45" width="15.40" height="82.85" fill="none" stroke="#ad2a3d" stroke-width="0.9"/>
<rect x="340.45" y="317.20" width="15.40" height="63.10" fill="none" stroke="#41659a" stroke-width="0.9"/>
<line x1="379.85" y1="319.00" x2="379.85" y2="313.75" stroke="#2b2b2b" stroke-width="1.2"/>
<line x1="376.05" y1="313.75" x2="383.65" y2="313.75" stroke="#2b2b2b" stroke-width="1.4"/>
<line x1="396.15" y1="313.25" x2="396.15" y2="301.50" stroke="#2b2b2b" stroke-width="1.2"/>
<line x1="392.35" y1="301.50" x2="399.95" y2="301.50" stroke="#2b2b2b" stroke-width="1.4"/>
<rect x="371.70" y="319.00" width="16.30" height="61.30" fill="#a03446"/>
<rect x="388.00" y="313.25" width="16.30" height="67.05" fill="#4d6385"/>
<rect x="372.15" y="319.45" width="15.40" height="60.85" fill="none" stroke="#ad2a3d" stroke-width="0.9"/>
<rect x="388.45" y="313.70" width="15.40" height="66.60" fill="none" stroke="#41659a" stroke-width="0.9"/>
<line x1="427.65" y1="311.50" x2="427.65" y2="305.50" stroke="#2b2b2b" stroke-width="1.2"/>
<line x1="423.85" y1="305.50" x2="431.45" y2="305.50" stroke="#2b2b2b" stroke-width="1.4"/>
<line x1="443.95" y1="309.50" x2="443.95" y2="303.25" stroke="#2b2b2b" stroke-width="1.2"/>
<line x1="440.15" y1="303.25" x2="447.75" y2="303.25" stroke="#2b2b2b" stroke-width="1.4"/>
<rect x="419.50" y="311.50" width="16.30" height="68.80" fill="#a03446"/>
<rect x="435.80" y="309.50" width="16.30" height="70.80" fill="#4d6385"/>
<rect x="419.95" y="311.95" width="15.40" height="68.35" fill="none" stroke="#ad2a3d" stroke-width="0.9"/>
<rect x="436.25" y="309.95" width="15.40" height="70.35" fill="none" stroke="#41659a" stroke-width="0.9"/>
<line x1="475.45" y1="323.25" x2="475.45" y2="320.25" stroke="#2b2b2b" stroke-width="1.2"/>
<line x1="471.65" y1="320.25" x2="479.25" y2="320.25" stroke="#2b2b2b" stroke-width="1.4"/>
<line x1="491.75" y1="319.75" x2="491.75" y2="314.25" stroke="#2b2b2b" stroke-width="1.2"/>
<line x1="487.95" y1="314.25" x2="495.55" y2="314.25" stroke="#2b2b2b" stroke-width="1.4"/>
<rect x="467.30" y="323.25" width="16.30" height="57.05" fill="#a03446"/>
<rect x="483.60" y="319.75" width="16.30" height="60.55" fill="#4d6385"/>
<rect x="467.75" y="323.70" width="15.40" height="56.60" fill="none" stroke="#ad2a3d" stroke-width="0.9"/>
<rect x="484.05" y="320.20" width="15.40" height="60.10" fill="none" stroke="#41659a" stroke-width="0.9"/>
<line x1="315.50" y1="380.30" x2="507.50" y2="380.30" stroke="#231f20" stroke-width="1.4"/>
<path d="M331.50,258.40V256.00H475.80V258.40" fill="none" stroke="#231f20" stroke-width="1.3"/>
<path d="M331.50,272.60V270.20H380.00V272.60" fill="none" stroke="#231f20" stroke-width="1.3"/>
<path d="M331.50,287.20V284.80H348.30V287.20" fill="none" stroke="#231f20" stroke-width="1.3"/>
<text transform="translate(388.32,253.70) scale(1.0025,1)" font-size="8.3" fill="#231f20">P=0.005</text>
<text transform="translate(342.02,267.70) scale(0.9995,1)" font-size="8.3" fill="#231f20">P=0.04</text>
<text transform="translate(326.62,281.90) scale(1.0042,1)" font-size="8.3" fill="#231f20">P=0.03</text>
<rect x="418.50" y="220.70" width="14.30" height="5.40" fill="#a03446"/>
<text transform="translate(436.10,226.70) scale(0.8375,1)" font-size="9.6" fill="#231f20">2-EC<tspan fill="#8a8a8a" stroke="none">&lt;</tspan>0.1%+NAC</text>
<rect x="418.50" y="234.30" width="14.30" height="5.40" fill="#4d6385"/>
<text transform="translate(436.10,240.30) scale(0.8299,1)" font-size="9.6" fill="#231f20">2-EC<tspan fill="#8a8a8a" stroke="none">≥</tspan>0.1%</text>
<line x1="315.75" y1="449.00" x2="315.75" y2="580.00" stroke="#231f20" stroke-width="1.4"/>
<line x1="315.00" y1="579.25" x2="506.25" y2="579.25" stroke="#231f20" stroke-width="1.4"/>
<line x1="312.05" y1="452.60" x2="315.75" y2="452.60" stroke="#231f20" stroke-width="1.2"/>
<text transform="translate(297.09,455.90) scale(0.9200,1)" font-size="9.6" fill="#231f20">1.5</text>
<line x1="312.05" y1="495.30" x2="315.75" y2="495.30" stroke="#231f20" stroke-width="1.2"/>
<text transform="translate(297.07,498.60) scale(0.9200,1)" font-size="9.6" fill="#231f20">1.0</text>
<line x1="312.05" y1="537.30" x2="315.75" y2="537.30" stroke="#231f20" stroke-width="1.2"/>
<text transform="translate(297.09,540.60) scale(0.9200,1)" font-size="9.6" fill="#231f20">0.5</text>
<line x1="312.05" y1="579.25" x2="315.75" y2="579.25" stroke="#231f20" stroke-width="1.2"/>
<text transform="translate(297.07,582.55) scale(0.9200,1)" font-size="9.6" fill="#231f20">0.0</text>
<line x1="339.75" y1="579.25" x2="339.75" y2="582.75" stroke="#231f20" stroke-width="1.2"/>
<text transform="translate(329.79,594.75) scale(0.9587,1)" font-size="9.6" fill="#231f20">-14D</text>
<line x1="387.25" y1="579.25" x2="387.25" y2="582.75" stroke="#231f20" stroke-width="1.2"/>
<text transform="translate(381.12,594.75) scale(1.0055,1)" font-size="9.6" fill="#231f20">0D</text>
<line x1="434.25" y1="579.25" x2="434.25" y2="582.75" stroke="#231f20" stroke-width="1.2"/>
<text transform="translate(424.77,594.75) scale(1.0178,1)" font-size="9.6" fill="#231f20">+1M</text>
<line x1="481.75" y1="579.25" x2="481.75" y2="582.75" stroke="#231f20" stroke-width="1.2"/>
<text transform="translate(472.01,594.75) scale(1.0460,1)" font-size="9.6" fill="#231f20">+2M</text>
<line x1="331.60" y1="507.50" x2="331.60" y2="501.25" stroke="#2b2b2b" stroke-width="1.2"/>
<line x1="327.80" y1="501.25" x2="335.40" y2="501.25" stroke="#2b2b2b" stroke-width="1.4"/>
<line x1="347.90" y1="506.25" x2="347.90" y2="499.50" stroke="#2b2b2b" stroke-width="1.2"/>
<line x1="344.10" y1="499.50" x2="351.70" y2="499.50" stroke="#2b2b2b" stroke-width="1.4"/>
<rect x="323.45" y="507.50" width="16.30" height="71.75" fill="#a03446"/>
<rect x="339.75" y="506.25" width="16.30" height="73.00" fill="#4d6385"/>
<rect x="323.90" y="507.95" width="15.40" height="71.30" fill="none" stroke="#ad2a3d" stroke-width="0.9"/>
<rect x="340.20" y="506.70" width="15.40" height="72.55" fill="none" stroke="#41659a" stroke-width="0.9"/>
<line x1="379.10" y1="493.75" x2="379.10" y2="484.50" stroke="#2b2b2b" stroke-width="1.2"/>
<line x1="375.30" y1="484.50" x2="382.90" y2="484.50" stroke="#2b2b2b" stroke-width="1.4"/>
<line x1="395.40" y1="500.75" x2="395.40" y2="486.25" stroke="#2b2b2b" stroke-width="1.2"/>
<line x1="391.60" y1="486.25" x2="399.20" y2="486.25" stroke="#2b2b2b" stroke-width="1.4"/>
<rect x="370.95" y="493.75" width="16.30" height="85.50" fill="#a03446"/>
<rect x="387.25" y="500.75" width="16.30" height="78.50" fill="#4d6385"/>
<rect x="371.40" y="494.20" width="15.40" height="85.05" fill="none" stroke="#ad2a3d" stroke-width="0.9"/>
<rect x="387.70" y="501.20" width="15.40" height="78.05" fill="none" stroke="#41659a" stroke-width="0.9"/>
<line x1="426.10" y1="539.25" x2="426.10" y2="534.50" stroke="#2b2b2b" stroke-width="1.2"/>
<line x1="422.30" y1="534.50" x2="429.90" y2="534.50" stroke="#2b2b2b" stroke-width="1.4"/>
<line x1="442.40" y1="538.00" x2="442.40" y2="531.50" stroke="#2b2b2b" stroke-width="1.2"/>
<line x1="438.60" y1="531.50" x2="446.20" y2="531.50" stroke="#2b2b2b" stroke-width="1.4"/>
<rect x="417.95" y="539.25" width="16.30" height="40.00" fill="#a03446"/>
<rect x="434.25" y="538.00" width="16.30" height="41.25" fill="#4d6385"/>
<rect x="418.40" y="539.70" width="15.40" height="39.55" fill="none" stroke="#ad2a3d" stroke-width="0.9"/>
<rect x="434.70" y="538.45" width="15.40" height="40.80" fill="none" stroke="#41659a" stroke-width="0.9"/>
<line x1="473.60" y1="531.50" x2="473.60" y2="526.00" stroke="#2b2b2b" stroke-width="1.2"/>
<line x1="469.80" y1="526.00" x2="477.40" y2="526.00" stroke="#2b2b2b" stroke-width="1.4"/>
<line x1="489.90" y1="525.50" x2="489.90" y2="516.75" stroke="#2b2b2b" stroke-width="1.2"/>
<line x1="486.10" y1="516.75" x2="493.70" y2="516.75" stroke="#2b2b2b" stroke-width="1.4"/>
<rect x="465.45" y="531.50" width="16.30" height="47.75" fill="#a03446"/>
<rect x="481.75" y="525.50" width="16.30" height="53.75" fill="#4d6385"/>
<rect x="465.90" y="531.95" width="15.40" height="47.30" fill="none" stroke="#ad2a3d" stroke-width="0.9"/>
<rect x="482.20" y="525.95" width="15.40" height="53.30" fill="none" stroke="#41659a" stroke-width="0.9"/>
<line x1="315.00" y1="579.25" x2="506.25" y2="579.25" stroke="#231f20" stroke-width="1.4"/>
<rect x="416.20" y="440.00" width="14.30" height="5.40" fill="#a03446"/>
<text transform="translate(433.80,446.00) scale(0.8375,1)" font-size="9.6" fill="#231f20">2-EC<tspan fill="#8a8a8a" stroke="none">&lt;</tspan>0.1%+NAC</text>
<rect x="416.20" y="453.90" width="14.30" height="5.40" fill="#4d6385"/>
<text transform="translate(433.80,459.90) scale(0.8299,1)" font-size="9.6" fill="#231f20">2-EC<tspan fill="#8a8a8a" stroke="none">≥</tspan>0.1%</text>
<line x1="316.25" y1="652.00" x2="316.25" y2="779.50" stroke="#231f20" stroke-width="1.4"/>
<line x1="315.50" y1="778.75" x2="503.10" y2="778.75" stroke="#231f20" stroke-width="1.4"/>
<line x1="312.55" y1="655.75" x2="316.25" y2="655.75" stroke="#231f20" stroke-width="1.2"/>
<text transform="translate(289.70,659.05) scale(0.9200,1)" font-size="9.6" fill="#231f20">8000</text>
<line x1="312.55" y1="686.50" x2="316.25" y2="686.50" stroke="#231f20" stroke-width="1.2"/>
<text transform="translate(289.70,689.80) scale(0.9200,1)" font-size="9.6" fill="#231f20">6000</text>
<line x1="312.55" y1="717.50" x2="316.25" y2="717.50" stroke="#231f20" stroke-width="1.2"/>
<text transform="translate(289.70,720.80) scale(0.9200,1)" font-size="9.6" fill="#231f20">4000</text>
<line x1="312.55" y1="748.00" x2="316.25" y2="748.00" stroke="#231f20" stroke-width="1.2"/>
<text transform="translate(289.70,751.30) scale(0.9200,1)" font-size="9.6" fill="#231f20">2000</text>
<line x1="312.55" y1="778.75" x2="316.25" y2="778.75" stroke="#231f20" stroke-width="1.2"/>
<text transform="translate(304.43,782.05) scale(0.9200,1)" font-size="9.6" fill="#231f20">0</text>
<line x1="339.50" y1="778.75" x2="339.50" y2="782.25" stroke="#231f20" stroke-width="1.2"/>
<text transform="translate(329.54,794.25) scale(0.9587,1)" font-size="9.6" fill="#231f20">-14D</text>
<line x1="386.25" y1="778.75" x2="386.25" y2="782.25" stroke="#231f20" stroke-width="1.2"/>
<text transform="translate(380.12,794.25) scale(1.0055,1)" font-size="9.6" fill="#231f20">0D</text>
<line x1="432.00" y1="778.75" x2="432.00" y2="782.25" stroke="#231f20" stroke-width="1.2"/>
<text transform="translate(422.52,794.25) scale(1.0178,1)" font-size="9.6" fill="#231f20">+1M</text>
<line x1="478.25" y1="778.75" x2="478.25" y2="782.25" stroke="#231f20" stroke-width="1.2"/>
<text transform="translate(468.51,794.25) scale(1.0460,1)" font-size="9.6" fill="#231f20">+2M</text>
<line x1="331.35" y1="725.00" x2="331.35" y2="716.25" stroke="#2b2b2b" stroke-width="1.2"/>
<line x1="327.55" y1="716.25" x2="335.15" y2="716.25" stroke="#2b2b2b" stroke-width="1.4"/>
<line x1="347.65" y1="718.00" x2="347.65" y2="705.50" stroke="#2b2b2b" stroke-width="1.2"/>
<line x1="343.85" y1="705.50" x2="351.45" y2="705.50" stroke="#2b2b2b" stroke-width="1.4"/>
<rect x="323.20" y="725.00" width="16.30" height="53.75" fill="#a03446"/>
<rect x="339.50" y="718.00" width="16.30" height="60.75" fill="#4d6385"/>
<rect x="323.65" y="725.45" width="15.40" height="53.30" fill="none" stroke="#ad2a3d" stroke-width="0.9"/>
<rect x="339.95" y="718.45" width="15.40" height="60.30" fill="none" stroke="#41659a" stroke-width="0.9"/>
<line x1="378.10" y1="732.50" x2="378.10" y2="728.75" stroke="#2b2b2b" stroke-width="1.2"/>
<line x1="374.30" y1="728.75" x2="381.90" y2="728.75" stroke="#2b2b2b" stroke-width="1.4"/>
<line x1="394.40" y1="726.25" x2="394.40" y2="715.75" stroke="#2b2b2b" stroke-width="1.2"/>
<line x1="390.60" y1="715.75" x2="398.20" y2="715.75" stroke="#2b2b2b" stroke-width="1.4"/>
<rect x="369.95" y="732.50" width="16.30" height="46.25" fill="#a03446"/>
<rect x="386.25" y="726.25" width="16.30" height="52.50" fill="#4d6385"/>
<rect x="370.40" y="732.95" width="15.40" height="45.80" fill="none" stroke="#ad2a3d" stroke-width="0.9"/>
<rect x="386.70" y="726.70" width="15.40" height="52.05" fill="none" stroke="#41659a" stroke-width="0.9"/>
<line x1="423.85" y1="705.75" x2="423.85" y2="695.00" stroke="#2b2b2b" stroke-width="1.2"/>
<line x1="420.05" y1="695.00" x2="427.65" y2="695.00" stroke="#2b2b2b" stroke-width="1.4"/>
<line x1="440.15" y1="703.00" x2="440.15" y2="689.50" stroke="#2b2b2b" stroke-width="1.2"/>
<line x1="436.35" y1="689.50" x2="443.95" y2="689.50" stroke="#2b2b2b" stroke-width="1.4"/>
<rect x="415.70" y="705.75" width="16.30" height="73.00" fill="#a03446"/>
<rect x="432.00" y="703.00" width="16.30" height="75.75" fill="#4d6385"/>
<rect x="416.15" y="706.20" width="15.40" height="72.55" fill="none" stroke="#ad2a3d" stroke-width="0.9"/>
<rect x="432.45" y="703.45" width="15.40" height="75.30" fill="none" stroke="#41659a" stroke-width="0.9"/>
<line x1="470.10" y1="721.75" x2="470.10" y2="717.50" stroke="#2b2b2b" stroke-width="1.2"/>
<line x1="466.30" y1="717.50" x2="473.90" y2="717.50" stroke="#2b2b2b" stroke-width="1.4"/>
<line x1="486.40" y1="713.25" x2="486.40" y2="705.50" stroke="#2b2b2b" stroke-width="1.2"/>
<line x1="482.60" y1="705.50" x2="490.20" y2="705.50" stroke="#2b2b2b" stroke-width="1.4"/>
<rect x="461.95" y="721.75" width="16.30" height="57.00" fill="#a03446"/>
<rect x="478.25" y="713.25" width="16.30" height="65.50" fill="#4d6385"/>
<rect x="462.40" y="722.20" width="15.40" height="56.55" fill="none" stroke="#ad2a3d" stroke-width="0.9"/>
<rect x="478.70" y="713.70" width="15.40" height="65.05" fill="none" stroke="#41659a" stroke-width="0.9"/>
<line x1="315.50" y1="778.75" x2="503.10" y2="778.75" stroke="#231f20" stroke-width="1.4"/>
<rect x="413.20" y="638.80" width="14.10" height="5.40" fill="#a03446"/>
<text transform="translate(430.30,644.80) scale(0.8348,1)" font-size="9.6" fill="#231f20">2-EC<tspan fill="#8a8a8a" stroke="none">&lt;</tspan>0.1%+NAC</text>
<rect x="413.20" y="652.70" width="14.10" height="5.40" fill="#4d6385"/>
<text transform="translate(430.30,658.70) scale(0.8299,1)" font-size="9.6" fill="#231f20">2-EC<tspan fill="#8a8a8a" stroke="none">≥</tspan>0.1%</text>
<rect x="0" y="0" width="520" height="1.4" fill="#000"/>
<rect x="0" y="0" width="1.25" height="834" fill="#000"/>
<rect x="518.6" y="0" width="1.4" height="834" fill="#000"/>
<rect x="0" y="832" width="520" height="2" fill="#5a5a5a"/>
</svg>
</body></html>
